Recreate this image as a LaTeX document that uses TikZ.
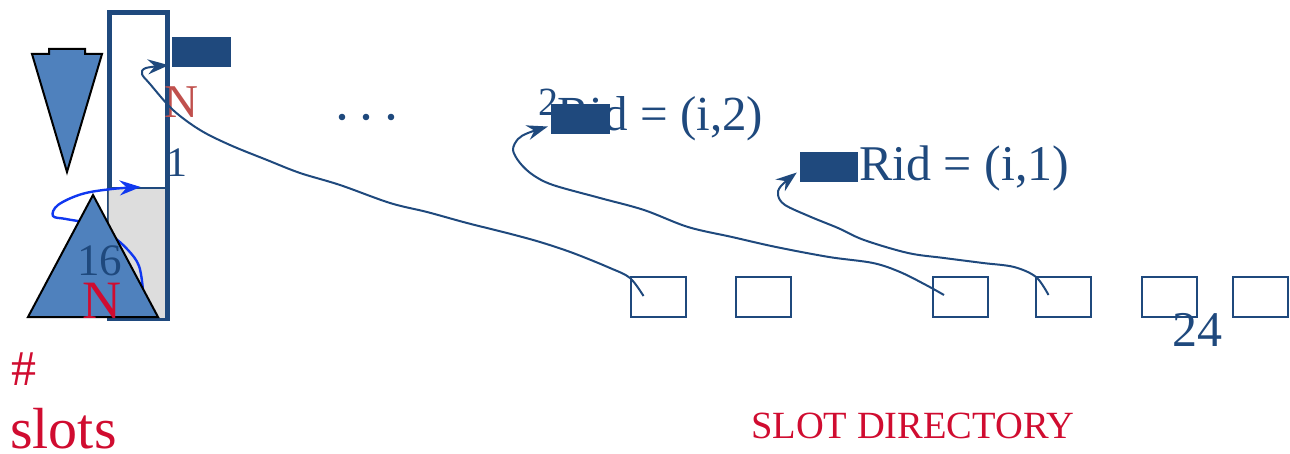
\documentclass[tikz,border=0pt]{standalone}
\usepackage{fontspec}
\setmainfont{Liberation Serif}
\usetikzlibrary{arrows.meta,calc}
\definecolor{dblue}{HTML}{1F497D}
\definecolor{mblue}{HTML}{4F81BD}
\definecolor{nred}{HTML}{C0504D}
\definecolor{crimson}{HTML}{D00C30}
\definecolor{bblue}{HTML}{1038F0}
\definecolor{greyfill}{HTML}{DDDDDD}
\tikzset{
  txt/.style={inner sep=0pt, anchor=base west, text=dblue},
  slotbox/.style={draw=dblue, line width=2pt, minimum width=55pt, minimum height=40pt, inner sep=0pt},
  ptrbox/.style={fill=dblue, inner sep=0pt, minimum width=59pt, minimum height=30pt},
  tipstyle/.style={-{Stealth[length=21pt,width=15pt,inset=7pt]}},
  conn/.style={draw=dblue, line width=2pt, tipstyle},
  tri/.style={fill=mblue, draw=black, line width=2pt, line join=miter},
}
\begin{document}
\begin{tikzpicture}[x=1pt,y=-1pt]
\useasboundingbox (0,0) rectangle (1290,454);
% page column
\draw[dblue, line width=5pt] (109.5,12.5) rectangle (167.5,318);
\node[fill=greyfill, draw=none, inner sep=0pt, minimum width=57pt, minimum height=130pt, anchor=north west] (grey) at (108,188) {};
\draw[draw=dblue!50!gray, line width=0.8pt] (grey.south west) -- (grey.north west);
\draw[dblue, line width=1.5pt] (grey.north west) -- (grey.north east);
% blue arrow (behind triangle)
\coordinate (ba) at (143,290);
\coordinate (bb) at ($(grey.north)+(4,-1)$);
\draw[bblue, line width=2.4pt, tipstyle]
  plot[smooth, tension=0.6] coordinates {(ba) (139,266) (128,250) (112,236) (90,224) (66,219) (53,216) (58,205) (82,194) (112,189) (bb)};
% funnel
\draw[tri] (32,54) -- (49,54) -- (49,49) -- (85,49) -- (85,54) -- (102,54) -- (67,172) -- cycle;
% triangle
\draw[tri] (93,195) -- (158,317) -- (28,317) -- cycle;
% texts in column
\node[txt, font=\fontsize{45}{45}\selectfont] (sixteen) at (77,276) {16};
\node[txt, text=crimson, font=\fontsize{54}{54}\selectfont] (nbig) at (82,318) {N};
\node[txt, text=nred, font=\fontsize{47}{47}\selectfont] (nsmall) at (164,118) {N};
\node[txt, font=\fontsize{42}{42}\selectfont] (one) at (166,177) {1};
% pointer boxes
\node[ptrbox] (t0) at (201.5,52) {};
% dots
\foreach \xx [count=\i] in {342,366,391} \fill[dblue] (\xx,117) circle (3.3pt);
% record texts
\node[txt, font=\fontsize{40}{40}\selectfont] (two) at (538,116) {2};
\node[txt, font=\fontsize{49}{49}\selectfont] (rid2) at (557,131) {Rid = (i,2)};
\node[ptrbox] (t2) at (580.5,119.5) {};
\node[txt, font=\fontsize{50}{50}\selectfont] (rid1) at (859,181) {Rid = (i,1)};
\node[ptrbox, minimum width=58pt] (t1) at (829,167.5) {};
% slot directory boxes
\node[slotbox] (s1) at (658.5,297) {};
\node[slotbox] (s2) at (763.5,297) {};
\node[slotbox] (s3) at (960,297) {};
\node[slotbox] (s4) at (1063.5,297) {};
\node[slotbox] (s5) at (1169.5,297) {};
\node[slotbox] (s6) at (1260,297) {};
\node[txt, font=\fontsize{50}{50}\selectfont] (n24) at (1172,346) {24};
% connectors
\coordinate (c1) at ($(s1.center)+(-15,-1)$);
\coordinate (c3) at ($(s3.center)+(-16,-2)$);
\coordinate (c4) at ($(s4.center)+(-15,-2)$);
\coordinate (e0) at ($(t0.south west)+(-3,-2)$);
\coordinate (e2) at ($(t2.west)+(-3,7)$);
\coordinate (e1) at ($(t1.west)+(-3,5)$);
\draw[conn] plot[smooth, tension=0.55] coordinates {(c1) (630,278) (610,268) (573,253) (540,242) (507,233) (467,223) (427,212) (390,203) (340,185) (300,173) (267,160) (230,145) (200,130) (173,110) (150,84) (142,74) (146,68) (e0)};
\draw[conn] plot[smooth, tension=0.55] coordinates {(c3) (926,285) (900,272) (873,263) (829,257) (776,247) (732,237) (688,227) (644,210) (600,198) (553,185) (533,175) (520,163) (513,150) (518,139) (528,133) (e2)};
\draw[conn] plot[smooth, tension=0.55] coordinates {(c4) (1036,277) (1014,267) (983,263) (944,258) (908,253) (864,240) (838,228) (811,217) (785,205) (778,195) (781,186) (e1)};
% labels
\node[txt, text=crimson, font=\fontsize{50}{50}\selectfont] (hash) at (11,385) {\#};
\node[txt, text=crimson, font=\fontsize{58}{58}\selectfont] (slots) at (10,448) {slots};
\node[txt, text=crimson, font=\fontsize{38.5}{38.5}\selectfont] (sd) at (751,438) {SLOT DIRECTORY};
\end{tikzpicture}
\end{document}
